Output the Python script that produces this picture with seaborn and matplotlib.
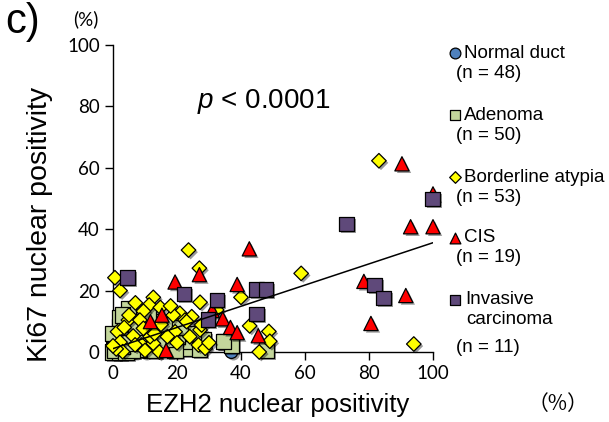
import numpy as np
import pandas as pd
import seaborn as sns
import matplotlib
matplotlib.use("Agg")
import matplotlib.pyplot as plt
import matplotlib.patheffects as pe

# ---------------- data ----------------
groups = ["Normal duct", "Adenoma", "Borderline atypia", "CIS", "Invasive carcinoma"]
group_n = [48, 50, 53, 19, 11]

normal_x = [0, 0, 0, 1, 0, 1, 2, 0, 1, 2, 3, 0, 1, 0, 2, 3, 1, 0, 4, 2, 0, 1, 3, 5, 0, 2, 1, 0, 4, 1,
            3, 0, 2, 6, 1, 0, 2, 5, 3, 1, 0, 7, 2, 4, 10, 1, 0, 37]
normal_y = [0, 1, 2, 0, 3, 1, 0, 0, 2, 1, 0, 4, 0, 1, 2, 1, 3, 0, 0, 3, 2, 4, 2, 0, 5, 0, 1, 6, 1, 5,
            3, 0, 4, 0, 0, 1, 2, 1, 0, 1, 3, 0, 5, 2, 0, 2, 0, 0]

adenoma_x = [4.8, 2.2, 1.7, 4.3, 9.5, 7.4, 14.2, 17.3, 19.9, 22.8, 23.0, 35.0, 37.0, 48.0, 5.3, 0.0,
             22.5, 19.4, 28.2, 34.5, 0.6, 12.0, 10.0, 3.0, 6.0, 8.0, 15.0, 2.0, 1.0, 0.5, 4.0, 6.0,
             3.0, 1.0, 12.0, 16.0, 25.0, 20.0, 11.0, 13.0, 27.0, 9.0, 5.0, 7.0, 18.0, 2.0, 0.0, 14.0,
             3.0, 21.0]
adenoma_y = [14.2, 8.2, 1.7, 1.2, 8.2, 1.7, 6.0, 2.8, 1.7, 3.9, 1.2, 3.4, 2.3, 0.6, 6.6, 0.0,
             3.4, 0.7, 3.9, 3.4, 1.2, 4.0, 1.0, 4.0, 10.0, 4.0, 2.0, 0.0, 3.0, 0.5, 0.0, 0.5,
             2.0, 5.0, 10.0, 9.0, 6.0, 5.0, 12.0, 0.5, 1.0, 6.0, 3.0, 8.0, 4.0, 11.0, 6.0, 3.0,
             12.0, 8.0]

border_x = [83.1, 94.0, 58.8, 23.6, 27.0, 0.6, 2.2, 40.0, 27.2, 12.6, 11.3, 9.5, 14.8, 4.8, 8.4,
            1.4, 2.2, 3.0, 6.3, 9.0, 12.6, 11.6, 14.5, 9.5, 19.4, 20.9, 22.5, 24.6, 27.2, 27.7,
            26.7, 28.8, 32.4, 42.7, 45.7, 48.7, 49.0, 18.8, 23.0, 6.9, 17.0, 5.0, 15.0, 20.0,
            3.5, 7.0, 13.0, 1.0, 24.0, 30.0, 10.0, 0.0, 18.0]
border_y = [62.3, 2.6, 25.6, 33.2, 27.3, 24.2, 20.0, 17.8, 16.2, 17.8, 15.3, 13.3, 14.5, 10.4, 10.4,
            6.6, 3.2, 0.1, 5.2, 2.3, 2.8, 5.0, 0.0, 7.7, 6.6, 12.6, 10.4, 11.5, 7.2, 8.8,
            2.3, 1.2, 13.7, 8.5, 0.0, 6.7, 3.5, 12.0, 9.9, 2.3, 5.0, 12.0, 9.0, 3.0,
            8.0, 16.0, 6.0, 1.0, 5.0, 3.0, 0.5, 2.0, 15.0]

cis_x = [16.6, 11.7, 15.3, 19.4, 27.0, 42.6, 38.8, 34.3, 36.7, 38.8, 45.4, 31.0, 78.4, 80.6,
         91.5, 93.0, 100.0, 90.3, 100.0]
cis_y = [0.5, 9.9, 12.0, 22.8, 25.2, 33.6, 22.0, 10.8, 8.0, 6.3, 5.3, 13.5, 23.0, 9.3,
         18.4, 40.8, 40.8, 61.3, 51.5]

invasive_x = [4.6, 22.2, 32.5, 29.7, 44.9, 47.8, 44.9, 73.0, 99.9, 81.7, 84.5]
invasive_y = [24.3, 18.9, 16.9, 10.6, 20.3, 20.3, 12.4, 41.7, 49.8, 21.8, 17.6]

fit_slope = 0.345
fit_intercept = 1.1
fit_x = [0, 100]

x_ticks = [0, 20, 40, 60, 80, 100]
y_ticks = [0, 20, 40, 60, 80, 100]

# ---------------- styling ----------------
colors = {"Normal duct": "#4F81BD", "Adenoma": "#C3D69B", "Borderline atypia": "#FFFF00",
          "CIS": "#FF0000", "Invasive carcinoma": "#5F497A"}
markers = {"Normal duct": "o", "Adenoma": "s", "Borderline atypia": "D",
           "CIS": "^", "Invasive carcinoma": "s"}
sizes = {"Normal duct": 85, "Adenoma": 125, "Borderline atypia": 55,
         "CIS": 105, "Invasive carcinoma": 110}

sns.set_theme(style="white")
plt.rcParams["font.family"] = ["Liberation Sans", "DejaVu Sans"]
plt.rcParams["mathtext.fontset"] = "custom"
plt.rcParams["mathtext.it"] = "Liberation Sans:italic"
plt.rcParams["mathtext.rm"] = "Liberation Sans"
for k in ["text.color", "axes.labelcolor", "xtick.color", "ytick.color", "axes.edgecolor"]:
    plt.rcParams[k] = "black"

W, H = 609, 422
fig = plt.figure(figsize=(W / 100, H / 100), dpi=100)
ax = fig.add_axes([113 / W, 1 - 352 / H, 320 / W, 307 / H])

frames = []
for g, xs, ys in [("Normal duct", normal_x, normal_y), ("Adenoma", adenoma_x, adenoma_y),
                  ("Borderline atypia", border_x, border_y), ("CIS", cis_x, cis_y),
                  ("Invasive carcinoma", invasive_x, invasive_y)]:
    frames.append(pd.DataFrame({"EZH2": xs, "Ki67": ys, "group": g}))
df = pd.concat(frames, ignore_index=True)

shadow = [pe.SimplePatchShadow(offset=(1.5, -1.5), shadow_rgbFace="black", alpha=0.4), pe.Normal()]
for g in groups:
    sub = df[df["group"] == g]
    sns.scatterplot(data=sub, x="EZH2", y="Ki67", color=colors[g], marker=markers[g],
                    s=sizes[g], edgecolor="black", linewidth=0.9, ax=ax, legend=False,
                    clip_on=False, zorder=3, path_effects=shadow)

fit_df = pd.DataFrame({"x": fit_x, "y": [fit_intercept + fit_slope * v for v in fit_x]})
sns.lineplot(data=fit_df, x="x", y="y", color="black", linewidth=1.1, ax=ax, zorder=4)

ax.set_xlim(0, 100)
ax.set_ylim(0, 100)
ax.set_xticks(x_ticks)
ax.set_yticks(y_ticks)
ax.set_xticklabels([str(v) for v in x_ticks], fontfamily="Lato", fontsize=13.5)
ax.set_yticklabels([str(v) for v in y_ticks], fontfamily="Lato", fontsize=13.5)
ax.tick_params(axis="both", direction="out", length=5.5, width=1, color="black", pad=4,
               left=True, bottom=True, labelcolor="black")
ax.set_xlabel("")
ax.set_ylabel("")
for s in ["top", "right"]:
    ax.spines[s].set_visible(False)
for s in ["left", "bottom"]:
    ax.spines[s].set_color("black")
    ax.spines[s].set_linewidth(1.0)
ax.set_facecolor("none")

ax.text((197 - 113) / 320, (352 - 102) / 307, r"$p$ < 0.0001", transform=ax.transAxes,
        fontsize=20, va="center", ha="left", color="black")

# labels
fig.text(278 / W, 1 - 405 / H, "EZH2 nuclear positivity", fontsize=18.5, ha="center", va="center")
fig.text(40 / W, 1 - 224 / H, "Ki67 nuclear positivity", fontsize=20.5, ha="center", va="center",
         rotation=90)
fig.text(5 / W, 1 - 22 / H, "c)", fontsize=30, ha="left", va="center")
fig.text(86 / W, 1 - 19 / H, "(%)", fontsize=13.5, ha="center", va="center", fontfamily="Lato")
fig.text(558 / W, 1 - 404 / H, "（%）", fontsize=15, ha="center", va="center",
         fontfamily=["Noto Sans CJK JP", "DejaVu Sans"])

# legend (manual)
lax = fig.add_axes([0, 0, 1, 1])
lax.set_xlim(0, W)
lax.set_ylim(H, 0)
lax.axis("off")
leg_marker_y = [53, 115, 177, 238, 300]
leg_sizes = {"Normal duct": 60, "Adenoma": 60, "Borderline atypia": 35, "CIS": 60,
             "Invasive carcinoma": 60}
for g, yy in zip(groups, leg_marker_y):
    lax.scatter([455], [yy], s=leg_sizes[g], marker=markers[g], color=colors[g],
                edgecolor="black", linewidth=0.9)
leg_lines = [("Normal duct", 464, 53), (f"(n = {group_n[0]})", 456, 73),
             ("Adenoma", 464, 115), (f"(n = {group_n[1]})", 456, 135),
             ("Borderline atypia", 464, 177), (f"(n = {group_n[2]})", 456, 197),
             ("CIS", 464, 238), (f"(n = {group_n[3]})", 456, 258),
             ("Invasive", 465, 300), ("carcinoma", 466, 320), (f"(n = {group_n[4]})", 456, 347)]
for t, xx, yy in leg_lines:
    lax.text(xx, yy, t, fontsize=13.5, ha="left", va="center", color="black")

fig.savefig("out.png", dpi=100)
